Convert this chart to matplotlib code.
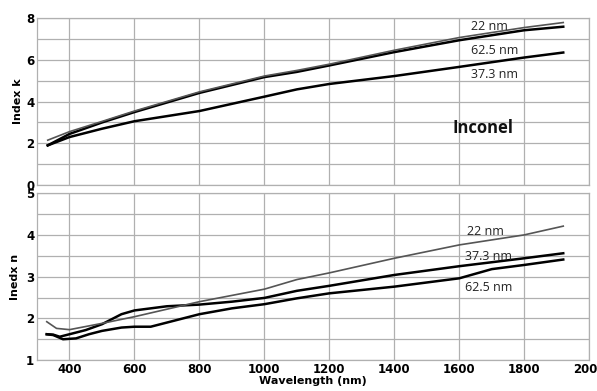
import matplotlib
matplotlib.use("Agg")
import matplotlib.pyplot as plt
import numpy as np

# ---- data: top panel (extinction index k) ----
wl_k = [333, 400, 500, 600, 800, 1000, 1100, 1200, 1400, 1600, 1800, 1920]
k_22 = [2.15, 2.56, 3.05, 3.55, 4.47, 5.23, 5.50, 5.80, 6.47, 7.08, 7.56, 7.80]
k_625 = [1.90, 2.45, 3.00, 3.50, 4.42, 5.18, 5.43, 5.74, 6.38, 6.95, 7.43, 7.60]
k_373 = [1.90, 2.30, 2.70, 3.06, 3.55, 4.24, 4.59, 4.85, 5.23, 5.67, 6.12, 6.36]

# ---- data: bottom panel (refractive index n) ----
wl_n22 = [330, 360, 400, 500, 600, 700, 800, 1000, 1100, 1200, 1400, 1600, 1800, 1920]
n_22 = [1.92, 1.76, 1.73, 1.88, 2.04, 2.22, 2.40, 2.70, 2.93, 3.09, 3.44, 3.76, 4.00, 4.21]

wl_n373 = [330, 350, 370, 400, 450, 500, 560, 600, 700, 800, 900, 1000, 1100, 1200, 1400, 1600, 1800, 1920]
n_373 = [1.62, 1.61, 1.56, 1.62, 1.72, 1.86, 2.10, 2.19, 2.29, 2.33, 2.40, 2.49, 2.66, 2.78, 3.04, 3.25, 3.44, 3.56]

wl_n625 = [330, 350, 380, 420, 460, 500, 560, 600, 650, 700, 800, 900, 1000, 1100, 1200, 1400, 1600, 1700, 1800, 1920]
n_625 = [1.62, 1.60, 1.50, 1.52, 1.62, 1.70, 1.78, 1.80, 1.80, 1.90, 2.10, 2.24, 2.34, 2.48, 2.60, 2.76, 2.96, 3.18, 3.28, 3.41]

x_ticks = [400, 600, 800, 1000, 1200, 1400, 1600, 1800, 2000]

fig = plt.figure(figsize=(5.97, 3.91), dpi=100)
ax1 = fig.add_axes([0.062, 0.527, 0.925, 0.426])
ax2 = fig.add_axes([0.062, 0.079, 0.925, 0.427])

grid_col = "#b0b0b0"
for ax in (ax1, ax2):
    ax.set_xlim(300, 2000)
    ax.set_xticks(x_ticks)
    ax.grid(True, which="both", color=grid_col, lw=0.9)
    ax.set_axisbelow(True)
    for s in ax.spines.values():
        s.set_color(grid_col)
        s.set_linewidth(0.9)
    ax.tick_params(length=0, labelsize=8.5, pad=2)

ax1.set_ylim(0, 8)
ax1.set_yticks([0, 2, 4, 6, 8])
ax1.set_yticks([1, 3, 5, 7], minor=True)
ax1.tick_params(which="minor", length=0)
ax1.set_xticklabels([])
for lab in ax1.get_yticklabels():
    lab.set_fontweight("bold")

ax2.set_ylim(1, 5)
ax2.set_yticks([1, 2, 3, 4, 5])
ax2.set_yticks([1.5, 2.5, 3.5, 4.5], minor=True)
ax2.tick_params(which="minor", length=0)
ax2.set_xticklabels([str(t) for t in x_ticks])
for lab in ax2.get_xticklabels() + ax2.get_yticklabels():
    lab.set_fontweight("bold")

# lines
ax1.plot(wl_k, k_625, color="black", lw=1.8)
ax1.plot(wl_k, k_373, color="black", lw=1.8)
ax1.plot(wl_k, k_22, color="#555555", lw=1.2)

ax2.plot(wl_n373, n_373, color="black", lw=1.8)
ax2.plot(wl_n625, n_625, color="black", lw=1.8)
ax2.plot(wl_n22, n_22, color="#555555", lw=1.2)

lab_font = dict(fontsize=9, family="Open Sans", color="#222222")
ax1.text(1635, 7.63, "22 nm", ha="left", va="center", **lab_font)
ax1.text(1635, 6.47, "62.5 nm", ha="left", va="center", **lab_font)
ax1.text(1635, 5.32, "37.3 nm", ha="left", va="center", **lab_font)
ax1.text(1580, 2.73, "Inconel", ha="left", va="center", fontsize=12,
         fontweight="bold", family="Open Sans", color="#111111")

ax2.text(1623, 4.08, "22 nm", ha="left", va="center", **lab_font)
ax2.text(1617, 3.48, "37.3 nm", ha="left", va="center", **lab_font)
ax2.text(1617, 2.73, "62.5 nm", ha="left", va="center", **lab_font)

ax1.set_ylabel("Index k", fontsize=8, fontweight="bold", labelpad=2)
ax2.set_ylabel("Inedx n", fontsize=8, fontweight="bold", labelpad=4)
ax2.set_xlabel("Wavelength (nm)", fontsize=8, fontweight="bold", labelpad=0)

fig.savefig("out.png", dpi=100)
